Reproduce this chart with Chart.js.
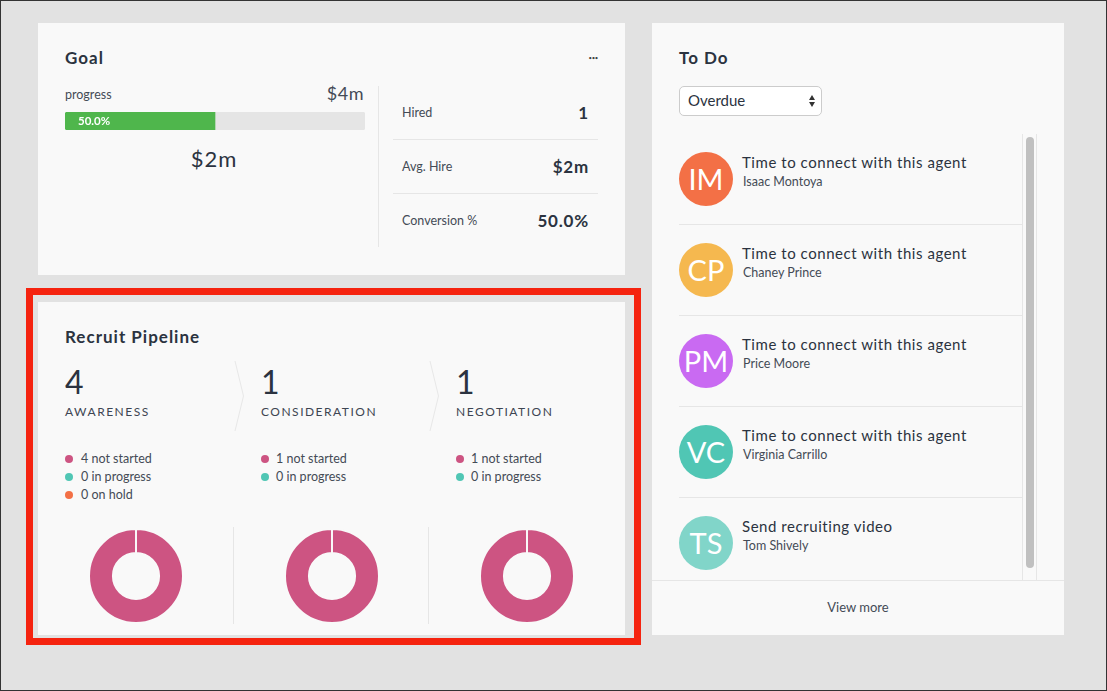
<!DOCTYPE html>
<html>
<head>
<meta charset="utf-8">
<script src="https://cdn.jsdelivr.net/npm/chart.js@4"></script>
<style>
html, body { margin: 0; padding: 0; }
body { width: 1107px; height: 691px; background: #e2e2e2; font-family: Lato, sans-serif; color: #2b3340; overflow: hidden; position: relative; }
#frame { position: absolute; left: 0; top: 0; width: 1105px; height: 689px; border: 1px solid #333; }
.card { position: absolute; background: #f9f9f9; }
.line { position: absolute; background: #e6e6e6; }
.txt { position: absolute; white-space: nowrap; transform: translateY(-50%); line-height: 1; }
.r { transform: translate(-100%, -50%); }
.c { transform: translate(-50%, -50%); }
.title { font-size: 17px; font-weight: 700; letter-spacing: 1px; }
.small { font-size: 12.5px; color: #444b56; }
.stat { font-size: 17px; font-weight: 700; letter-spacing: .8px; }
.dot { position: absolute; width: 8px; height: 8px; border-radius: 50%; }
.avatar { position: absolute; width: 54px; height: 54px; border-radius: 50%; color: #fff; font-size: 29px; line-height: 54px; text-align: center; }
canvas { position: absolute; }
#redbox { position: absolute; left: 26px; top: 288px; width: 601px; height: 343px; border: 7px solid #f5230f; }
#select { position: absolute; left: 679px; top: 86px; width: 141px; height: 28px; background: #fff; border: 1px solid #ccc; border-radius: 5px; }
.tri { position: absolute; left: 809px; width: 0; height: 0; border-left: 3.5px solid transparent; border-right: 3.5px solid transparent; }
</style>
</head>
<body>
<div id="frame"></div>
<div class="card" style="left:38px;top:23px;width:587px;height:252px"></div>
<div class="card" style="left:652px;top:23px;width:412px;height:612px"></div>
<div id="redbox"></div>
<div class="card" style="left:38px;top:302px;width:587px;height:333px"></div>
<div id="select"></div>
<div class="tri" style="top:95px;border-bottom:5px solid #333"></div>
<div class="tri" style="top:102px;border-top:5px solid #333"></div>
<svg style="position:absolute;left:0;top:0" width="1107" height="691">
  <polyline points="235,361 243.5,396 235,431" fill="none" stroke="#e8e8e8"/>
  <polyline points="430,361 438.5,396 430,431" fill="none" stroke="#e8e8e8"/>
</svg>
<canvas id="goalBar" width="300" height="18" style="left:65px;top:112px;width:300px;height:18px"></canvas>
<script>
// datos del pipeline
const stages = ["AWARENESS", "CONSIDERATION", "NEGOTIATION"];
const stageTotals = [4, 1, 1];
const notStarted = [4, 1, 1];
const inProgress = [0, 0, 0];
const onHold = [0, null, null];

// datos del objetivo
const goalReached = [2];
const goalRemaining = [2];
const goalStats = [["Hired", "1"], ["Avg. Hire", "$2m"], ["Conversion %", "50.0%"]];

// tareas
const todoTitles = ["Time to connect with this agent", "Time to connect with this agent", "Time to connect with this agent", "Time to connect with this agent", "Send recruiting video"];
const todoNames = ["Isaac Montoya", "Chaney Prince", "Price Moore", "Virginia Carrillo", "Tom Shively"];
const todoInitials = ["IM", "CP", "PM", "VC", "TS"];
const todoColors = ["#f37046", "#f5b84f", "#c96af2", "#50c6b4", "#81d5c9"];

const statusColors = ["#cd5482", "#50c6b4", "#f37046"];

function txt(x, y, text, cls, style) {
    const el = document.createElement("div");
    el.className = "txt " + (cls || "");
    el.textContent = text;
    el.style.left = x + "px";
    el.style.top = y + "px";
    if (style) el.style.cssText += style;
    document.body.appendChild(el);
}

function line(x, y, w, h) {
    const el = document.createElement("div");
    el.className = "line";
    el.style.cssText = `left:${x}px;top:${y}px;width:${w}px;height:${h}px`;
    document.body.appendChild(el);
}

// ===============================
// Goal
// ===============================
txt(65, 57, "Goal", "title");
txt(598, 57.5, "•••", "r", "font-size:6px;letter-spacing:-.3px;color:#444");
txt(65, 95, "progress", "small");
txt(364, 93, "$4m", "r", "font-size:18px;letter-spacing:.5px;color:#444b56");
txt(214, 159, "$2m", "c", "font-size:22px;letter-spacing:1px");
line(378, 86, 1, 161);
line(393, 139, 205, 1);
line(393, 193, 205, 1);
goalStats.forEach((s, i) => {
    txt(402, 113 + i * 54, s[0], "small");
    txt(589, 111.5 + i * 54, s[1], "r stat");
});

new Chart(document.getElementById("goalBar"), {
    type: "bar",
    data: {
        labels: ["goal"],
        datasets: [
            { data: goalReached, backgroundColor: "#4fb64c", borderRadius: { topLeft: 3, bottomLeft: 3 }, borderSkipped: false },
            { data: goalRemaining, backgroundColor: "#e5e5e5", borderRadius: { topRight: 3, bottomRight: 3 }, borderSkipped: false }
        ]
    },
    options: {
        indexAxis: "y",
        responsive: false,
        animation: false,
        barPercentage: 1,
        categoryPercentage: 1,
        plugins: { legend: { display: false }, tooltip: { enabled: false } },
        scales: {
            x: { display: false, stacked: true, min: 0, max: 4 },
            y: { display: false, stacked: true }
        }
    }
});
txt(78, 121, "50.0%", "", "font-size:11.5px;font-weight:700;color:#fff");

// ===============================
// Recruit Pipeline
// ===============================
txt(65, 336, "Recruit Pipeline", "title");
line(233, 527, 1, 97);
line(428, 527, 1, 97);

const stageX = [65, 261, 456];
const legendX = [81, 276, 471];
const donutX = [136, 332, 527];

stages.forEach((name, i) => {
    const x = stageX[i];
    txt(x, 382, String(stageTotals[i]), "", "font-size:32px;font-weight:400");
    txt(x, 411.5, name, "", "font-size:12px;letter-spacing:1.5px;color:#3d4552");

    const rows = [[notStarted[i], "not started"], [inProgress[i], "in progress"], [onHold[i], "on hold"]];
    rows.forEach((r, k) => {
        if (r[0] === null) return;
        const y = 458 + k * 18;
        const d = document.createElement("div");
        d.className = "dot";
        d.style.cssText = `left:${x}px;top:${y - 3.5}px;background:${statusColors[k]}`;
        document.body.appendChild(d);
        txt(legendX[i], y + 1, r[0] + " " + r[1], "small");
    });

    const cv = document.createElement("canvas");
    cv.width = 110;
    cv.height = 110;
    cv.style.cssText = `left:${donutX[i] - 55}px;top:${575.5 - 55}px;width:110px;height:110px`;
    document.body.appendChild(cv);

    new Chart(cv, {
        type: "doughnut",
        data: {
            labels: ["not started", "in progress", "on hold"],
            datasets: [{
                data: [notStarted[i], inProgress[i], onHold[i]],
                backgroundColor: statusColors,
                borderColor: "#f9f9f9",
                borderWidth: 2
            }]
        },
        options: {
            responsive: false,
            animation: false,
            radius: 47,
            cutout: 26.5,
            plugins: { legend: { display: false }, tooltip: { enabled: false } }
        }
    });
});

// ===============================
// To Do
// ===============================
txt(679, 57, "To Do", "title");
txt(688, 100, "Overdue", "", "font-size:15px");

todoTitles.forEach((title, i) => {
    const top = 152 + i * 91;
    const a = document.createElement("div");
    a.className = "avatar";
    a.textContent = todoInitials[i];
    a.style.cssText = `left:679px;top:${top}px;background:${todoColors[i]}`;
    document.body.appendChild(a);
    txt(742, top + 10, title, "", "font-size:15px;letter-spacing:.55px;color:#2b3340");
    txt(743, top + 30, todoNames[i], "", "font-size:12.5px;color:#444b56");
    if (i < 4) line(679, top + 72, 343, 1);
});

line(1022, 134, 1, 446);
line(1036, 134, 1, 446);
const thumb = document.createElement("div");
thumb.style.cssText = "position:absolute;left:1026px;top:137px;width:8px;height:431px;border-radius:4px;background:#c0c0c0";
document.body.appendChild(thumb);
line(652, 580, 412, 1);
txt(858, 607, "View more", "c", "font-size:13px;color:#444b56");
</script>
</body>
</html>
